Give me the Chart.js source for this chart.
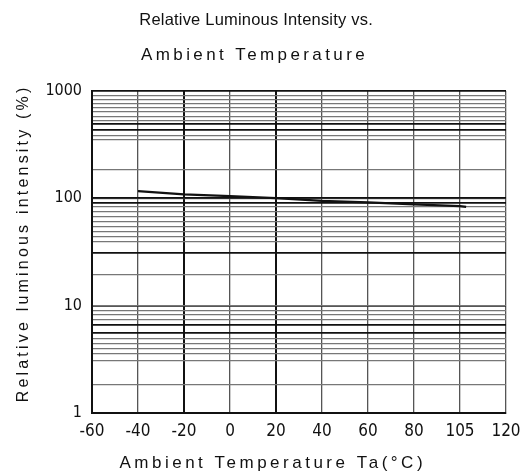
<!DOCTYPE html>
<html>
<head>
<meta charset="utf-8">
<script src="https://cdn.jsdelivr.net/npm/chart.js@4.4.1/dist/chart.umd.min.js"></script>
<style>
  html, body { margin: 0; padding: 0; background: #fff; }
  #wrap { width: 522px; height: 476px; }
</style>
</head>
<body>
<div id="wrap"><canvas id="c" width="522" height="476"></canvas></div>
<script>
// ---- data ----
const titleLines = ['Relative Luminous Intensity vs.', 'Ambient Temperature'];
const xAxisTitle = 'Ambient Temperature Ta(°C)';
const yAxisTitle = 'Relative luminous intensity (%)';
const xTickTemps = [-60, -40, -20, 0, 20, 40, 60, 80, 105, 120];
const yDecadeTicks = [1, 10, 100, 1000];
const yGridValues = [912, 832, 763, 701, 638, 582, 534, 490, 437, 387, 353, 185,
  99.7, 91.5, 83.3, 74.8, 67.2, 60.4, 54.2, 48.7, 43.8, 39.3, 30.7, 19.3,
  10.1, 9.09, 8.17, 7.34, 6.59, 5.52, 4.96, 4.45, 4.0, 3.59, 3.11, 1.82];
const yDarkGrid = [490, 437, 91.5, 30.7, 6.59, 5.52];
const xDarkGrid = [-20, 20];
const seriesTemps = [-40, -20, 0, 20, 40, 60, 80, 105, 107];
const seriesValues = [116.5, 109, 104.7, 100.3, 94.6, 91.5, 87.7, 84.5, 83.3];

// map a temperature onto the evenly spaced (non-linear) temperature axis
function tempToPos(t) {
  for (let i = 0; i < xTickTemps.length - 1; i++) {
    const a = xTickTemps[i], b = xTickTemps[i + 1];
    if (t >= a && t <= b) return i + (t - a) / (b - a);
  }
  return t < xTickTemps[0] ? 0 : xTickTemps.length - 1;
}

const points = seriesTemps.map((t, i) => ({ x: tempToPos(t), y: seriesValues[i] }));
const narrow = "'Liberation Sans Narrow', 'DejaVu Sans Condensed', 'Liberation Sans', Arial, sans-serif";
const sans = "'Liberation Sans', Arial, sans-serif";

function spacedText(ctx, text, x, y, spacing, align) {
  ctx.letterSpacing = spacing + 'px';
  const w = ctx.measureText(text).width - spacing;
  let start = x;
  if (align === 'center') start = x - w / 2;
  ctx.textAlign = 'left';
  ctx.fillText(text, start, y);
  ctx.letterSpacing = '0px';
}

const textPlugin = {
  id: 'texts',
  afterDraw(chart) {
    const ctx = chart.ctx;
    const a = chart.chartArea;
    ctx.save();
    ctx.fillStyle = '#111';
    ctx.textBaseline = 'alphabetic';
    // chart title
    ctx.font = '16.5px ' + sans;
    spacedText(ctx, titleLines[0], 256, 25, 0.2, 'center');
    ctx.font = '17px ' + sans;
    spacedText(ctx, titleLines[1], 141, 60, 3.4, 'left');
    // x axis title
    spacedText(ctx, xAxisTitle, 271, 468, 3.5, 'center');
    // y axis title
    ctx.translate(28, 245);
    ctx.rotate(-Math.PI / 2);
    ctx.font = '16px ' + sans;
    spacedText(ctx, yAxisTitle, 0, 0, 3.2, 'center');
    ctx.restore();
  }
};

new Chart(document.getElementById('c'), {
  type: 'line',
  data: {
    datasets: [{
      data: points,
      borderColor: '#111',
      borderWidth: 2.2,
      pointRadius: 0,
      fill: false,
      tension: 0
    }]
  },
  options: {
    responsive: false,
    animation: false,
    layout: { padding: { left: 0, right: 16, top: 91, bottom: 0 } },
    plugins: {
      legend: { display: false },
      tooltip: { enabled: false },
      title: { display: false }
    },
    scales: {
      x: {
        type: 'linear',
        min: 0,
        max: xTickTemps.length - 1,
        afterBuildTicks(scale) {
          scale.ticks = xTickTemps.map((t, i) => ({ value: i }));
        },
        afterFit(scale) {
          scale.height = 63;
          scale.paddingRight = 0;
          scale.paddingLeft = 0;
        },
        ticks: {
          autoSkip: false,
          maxRotation: 0,
          padding: 8,
          color: '#111',
          font: { family: narrow, size: 17 },
          callback: (v) => xTickTemps[v] !== undefined ? String(xTickTemps[v]) : ''
        },
        grid: {
          drawTicks: false,
          color: (c) => {
            const t = xTickTemps[c.tick ? c.tick.value : -1];
            return xDarkGrid.includes(t) ? '#111' : '#555';
          },
          lineWidth: (c) => {
            const t = xTickTemps[c.tick ? c.tick.value : -1];
            return xDarkGrid.includes(t) ? 2 : 1.3;
          }
        },
        border: { display: true, color: '#111', width: 2 }
      },
      y: {
        type: 'logarithmic',
        min: 1,
        max: 1000,
        afterBuildTicks(scale) {
          const vals = yDecadeTicks.concat(yGridValues).sort((a, b) => a - b);
          scale.ticks = vals.map(v => ({ value: v, major: yDecadeTicks.includes(v) }));
        },
        afterFit(scale) {
          scale.width = 92;
          scale.paddingTop = 0;
          scale.paddingBottom = 0;
        },
        ticks: {
          autoSkip: false,
          padding: 10,
          color: '#111',
          font: { family: narrow, size: 16 },
          callback: (v) => yDecadeTicks.includes(v) ? String(v) : ''
        },
        title: { display: false },
        grid: {
          drawTicks: false,
          color: (c) => {
            const v = c.tick ? c.tick.value : 0;
            return (yDarkGrid.includes(v) || yDecadeTicks.includes(v)) ? '#111' : '#777';
          },
          lineWidth: (c) => {
            const v = c.tick ? c.tick.value : 0;
            return (yDarkGrid.includes(v) || yDecadeTicks.includes(v)) ? 1.8 : 1.2;
          }
        },
        border: { display: true, color: '#111', width: 2 }
      }
    }
  },
  plugins: [textPlugin]
});
</script>
</body>
</html>
